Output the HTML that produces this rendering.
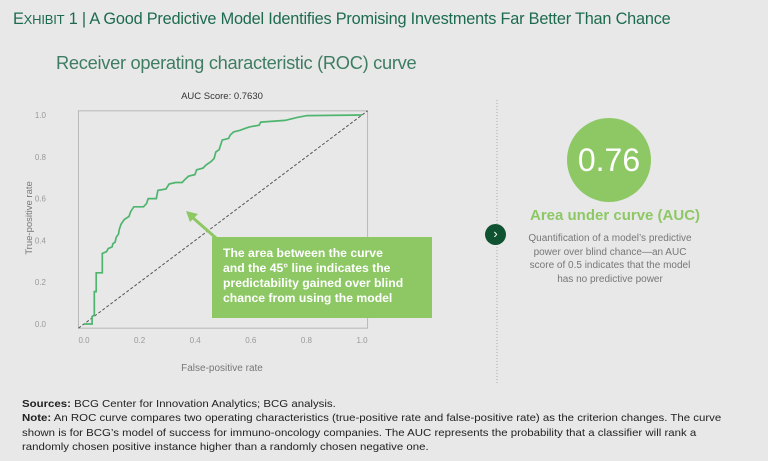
<!DOCTYPE html>
<html><head><meta charset="utf-8"><style>
body{margin:0;background:#e8e8e9;font-family:"Liberation Sans",sans-serif;}
#wrap{position:relative;width:768px;height:461px;overflow:hidden;background:#e8e8e9;}
.t{position:absolute;white-space:nowrap;}
</style></head><body>
<div id="wrap">
<div class="t" style="left:13px;top:10px;font-size:16.3px;color:#1d6b4f;letter-spacing:-0.2px;">E<span style="font-size:13px">XHIBIT</span> 1 | A Good Predictive Model Identifies Promising Investments Far Better Than Chance</div>
<div class="t" style="left:56px;top:52px;font-size:18.3px;color:#3f7d62;letter-spacing:-0.3px;">Receiver operating characteristic (ROC) curve</div>
<svg id="chart" width="768" height="461" style="position:absolute;left:0;top:0"></svg>
<div class="t" style="left:212px;top:237px;width:220px;height:81px;background:#8dc865;box-sizing:border-box;padding:9px 0 0 11px;color:#fff;font-weight:bold;font-size:12.2px;line-height:15px;">The area between the curve<br>and the 45° line indicates the<br>predictability gained over blind<br>chance from using the model</div>
<div class="t" style="left:567px;top:118px;width:84px;height:84px;border-radius:50%;background:#8dc865;color:#fff;font-size:32px;text-align:center;line-height:84px;">0.76</div>
<div class="t" style="left:530px;top:207px;width:160px;text-align:center;font-size:15px;font-weight:bold;color:#8dc865;">Area under curve (AUC)</div>
<div class="t" style="left:520px;top:232px;width:180px;text-align:center;font-size:10px;line-height:13.5px;color:#777;">Quantification of a model’s predictive<br>power over blind chance—an AUC<br>score of 0.5 indicates that the model<br>has no predictive power</div>
<div class="t" style="left:485px;top:224px;width:21px;height:21px;border-radius:50%;background:#0e5231;color:#fff;font-size:13px;text-align:center;line-height:20px;">›</div>
<div class="t" style="left:22px;top:398px;font-size:10.4px;line-height:14.3px;color:#222;transform:scaleX(1.1);transform-origin:0 0;">
<b>Sources:</b> BCG Center for Innovation Analytics; BCG analysis.<br>
<b>Note:</b> An ROC curve compares two operating characteristics (true-positive rate and false-positive rate) as the criterion changes. The curve<br>
shown is for BCG’s model of success for immuno-oncology companies. The AUC represents the probability that a classifier will rank a<br>
randomly chosen positive instance higher than a randomly chosen negative one.</div>
</div>
<script>
const fprValues=[0,0.029,0.029,0.037,0.037,0.044,0.044,0.066,0.066,0.081,0.087,0.101,0.104,0.112,0.116,0.124,0.127,0.133,0.145,0.162,0.168,0.179,0.214,0.225,0.231,0.26,0.266,0.295,0.306,0.329,0.353,0.364,0.376,0.399,0.405,0.428,0.439,0.457,0.468,0.474,0.486,0.497,0.52,0.526,0.538,0.561,0.578,0.595,0.63,0.636,0.723,0.769,0.803,1];
const tprValues=[0,0,0.036,0.043,0.155,0.155,0.245,0.245,0.338,0.346,0.361,0.369,0.384,0.392,0.415,0.43,0.453,0.477,0.5,0.515,0.538,0.561,0.561,0.577,0.6,0.6,0.639,0.646,0.67,0.677,0.677,0.693,0.707,0.715,0.738,0.746,0.761,0.777,0.792,0.823,0.834,0.88,0.888,0.904,0.919,0.927,0.935,0.943,0.951,0.966,0.974,0.989,0.997,1];
const tickLabels=["0.0","0.2","0.4","0.6","0.8","1.0"];
const tickValues=[0,0.2,0.4,0.6,0.8,1];
const aucLabel="AUC Score: 0.7630";
const NS="http://www.w3.org/2000/svg";
const svg=document.getElementById('chart');
const X=v=>84+v*278, Y=v=>324-v*209;
function mk(t,a){const e=document.createElementNS(NS,t);for(const k in a)e.setAttribute(k,a[k]);svg.appendChild(e);return e;}
let r=mk('rect',{x:X(-0.02),y:Y(1.02),width:X(1.02)-X(-0.02),height:Y(-0.02)-Y(1.02),fill:'none',stroke:'#b8b8b8','stroke-width':1});


tickValues.forEach((v,i)=>{
 let t=mk('text',{x:X(v),y:343,'font-size':8,fill:'#999','text-anchor':'middle'});t.textContent=tickLabels[i];
 
 
 let u=mk('text',{x:46,y:Y(v)+3,'font-size':8,fill:'#999','text-anchor':'end'});u.textContent=tickLabels[i];
 
 
});
let xt=mk('text',{x:222,y:371,'font-size':10,fill:'#777','text-anchor':'middle'});xt.textContent='False-positive rate';


let yt=mk('text',{x:32,y:218,'font-size':9.5,fill:'#777','text-anchor':'middle',transform:'rotate(-90 32 218)'});yt.textContent='True-positive rate';


let at=mk('text',{x:222,y:99,'font-size':9.5,fill:'#333','text-anchor':'middle'});at.textContent=aucLabel;


let d=mk('line',{x1:X(-0.02),y1:Y(-0.02),x2:X(1.02),y2:Y(1.02),stroke:'#555','stroke-width':1,'stroke-dasharray':'3,2'});


let pts=fprValues.map((v,i)=>X(v).toFixed(1)+','+Y(tprValues[i]).toFixed(1)).join(' ');
let c=mk('polyline',{points:pts,fill:'none',stroke:'#4fb56e','stroke-width':1.7});


let a=mk('line',{x1:216,y1:238,x2:192,y2:217,stroke:'#8dc865','stroke-width':3});


let ah=mk('polygon',{points:'186,211 198,214 190,222',fill:'#8dc865'});


let dv=mk('line',{x1:497,y1:100,x2:497,y2:383,stroke:'#aaa','stroke-width':1,'stroke-dasharray':'1,2'});


</script>
</body></html>
